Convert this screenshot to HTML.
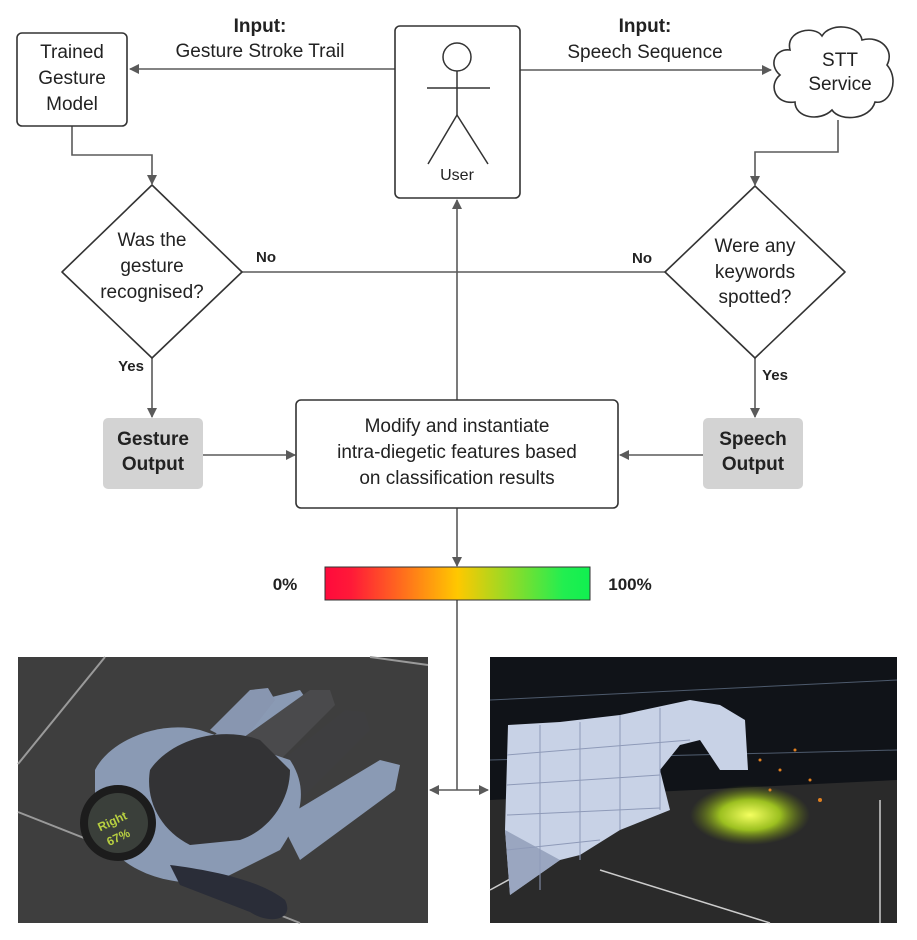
<!DOCTYPE html>
<html><head><meta charset="utf-8"><style>
html,body{margin:0;padding:0;background:#fff;}
svg{display:block;font-family:"Liberation Sans",sans-serif;}
</style></head><body>
<svg width="917" height="940" viewBox="0 0 917 940" xmlns="http://www.w3.org/2000/svg">
<defs>
<marker id="ar" markerWidth="10" markerHeight="10" refX="9" refY="5" orient="auto" markerUnits="userSpaceOnUse">
<path d="M0,0 L10,5 L0,10 Z" fill="#5a5a5a"/></marker>
<linearGradient id="bar" x1="0" x2="1">
<stop offset="0" stop-color="#ff0a3c"/><stop offset="0.1" stop-color="#ff1a38"/><stop offset="0.5" stop-color="#ffc800"/><stop offset="0.9" stop-color="#22ee50"/><stop offset="1" stop-color="#10f050"/></linearGradient>
<radialGradient id="glow" cx="0.5" cy="0.5" r="0.5"><stop offset="0" stop-color="#f4ff60"/><stop offset="0.5" stop-color="#9cc020"/><stop offset="1" stop-color="#6a8010" stop-opacity="0"/></radialGradient>
</defs>
<g stroke="#5a5a5a" stroke-width="1.6" fill="none">
<line x1="395" y1="69" x2="130" y2="69" marker-end="url(#ar)"/>
<line x1="520" y1="70" x2="771" y2="70" marker-end="url(#ar)"/>
<path d="M72,126 V155 H152 V184" marker-end="url(#ar)"/>
<path d="M838,120 V152 H755 V185" marker-end="url(#ar)"/>
<line x1="242" y1="272" x2="665" y2="272"/>
<line x1="457" y1="400" x2="457" y2="200" marker-end="url(#ar)"/>
<line x1="152" y1="358" x2="152" y2="417" marker-end="url(#ar)"/>
<line x1="755" y1="358" x2="755" y2="417" marker-end="url(#ar)"/>
<line x1="203" y1="455" x2="295" y2="455" marker-end="url(#ar)"/>
<line x1="703" y1="455" x2="620" y2="455" marker-end="url(#ar)"/>
<line x1="457" y1="508" x2="457" y2="566" marker-end="url(#ar)"/>
<path d="M457,600 V790"/>
<line x1="457" y1="790" x2="430" y2="790" marker-end="url(#ar)"/>
<line x1="457" y1="790" x2="488" y2="790" marker-end="url(#ar)"/>
</g>
<g stroke="#333" stroke-width="1.6" fill="#fff">
<rect x="17" y="33" width="110" height="93" rx="5"/>
<rect x="395" y="26" width="125" height="172" rx="5"/>
<path d="M152,185 L242,272 L152,358 L62,272 Z" stroke-linejoin="round"/>
<path d="M755,186 L845,272 L755,358 L665,272 Z" stroke-linejoin="round"/>
<rect x="296" y="400" width="322" height="108" rx="5"/>
<path d="M790,50 C785,30 815,25 822,36 C830,22 860,25 862,40 C880,35 895,50 887,65 C900,80 890,105 875,102 C870,120 840,122 832,110 C820,122 795,118 795,102 C775,105 768,85 780,75 C768,65 775,48 790,50 Z"/>
</g>
<rect x="103" y="418" width="100" height="71" rx="5" fill="#d3d3d3"/>
<rect x="703" y="418" width="100" height="71" rx="5" fill="#d3d3d3"/>
<g stroke="#333" stroke-width="1.5" fill="none">
<circle cx="457" cy="57" r="14"/>
<line x1="457" y1="71" x2="457" y2="115"/>
<line x1="427" y1="88" x2="490" y2="88"/>
<path d="M428,164 L457,115 L488,164"/>
</g>
<g fill="#222" font-size="19" text-anchor="middle">
<text x="72" y="58">Trained</text><text x="72" y="84">Gesture</text><text x="72" y="110">Model</text>
<text x="260" y="32" font-weight="bold">Input:</text><text x="260" y="57">Gesture Stroke Trail</text>
<text x="645" y="32" font-weight="bold">Input:</text><text x="645" y="58">Speech Sequence</text>
<text x="840" y="66">STT</text><text x="840" y="90">Service</text>
<text x="457" y="180" font-size="16">User</text>
<text x="152" y="246">Was the</text><text x="152" y="272">gesture</text><text x="152" y="298">recognised?</text>
<text x="755" y="252">Were any</text><text x="755" y="278">keywords</text><text x="755" y="303">spotted?</text>
<text x="457" y="432">Modify and instantiate</text><text x="457" y="458">intra-diegetic features based</text><text x="457" y="484">on classification results</text>
<text x="153" y="445" font-weight="bold">Gesture</text><text x="153" y="470" font-weight="bold">Output</text>
<text x="753" y="445" font-weight="bold">Speech</text><text x="753" y="470" font-weight="bold">Output</text>
<text x="266" y="262" font-size="15" font-weight="bold">No</text>
<text x="642" y="263" font-size="15" font-weight="bold">No</text>
<text x="131" y="371" font-size="15" font-weight="bold">Yes</text>
<text x="775" y="380" font-size="15" font-weight="bold">Yes</text>
<text x="285" y="590" font-size="17" font-weight="bold">0%</text>
<text x="630" y="590" font-size="17" font-weight="bold">100%</text>
</g>
<rect x="325" y="567" width="265" height="33" fill="url(#bar)" stroke="#333" stroke-width="1"/>
<!-- left image -->
<rect x="18" y="657" width="410" height="266" fill="#3e3e3e"/>
<g stroke="#9a9a9a" stroke-width="2"><line x1="18" y1="764" x2="105" y2="657"/><line x1="18" y1="812" x2="300" y2="923"/><line x1="370" y1="657" x2="428" y2="665"/></g>
<!-- fingers -->
<path d="M130,800 L260,700 L300,690 L310,705 L200,820 Z" fill="#8a9ab4"/>
<path d="M210,730 L250,690 L268,688 L275,700 L240,745 Z" fill="#8896b0"/>
<path d="M240,740 L310,690 L330,690 L335,705 L270,770 Z" fill="#4a4a4c"/>
<path d="M270,770 L345,710 L365,712 L370,730 L300,800 Z" fill="#3e3e40"/>
<path d="M280,820 L380,760 L400,765 L395,790 L300,860 Z" fill="#8a9ab4"/>
<path d="M95,770 C110,740 160,720 200,730 L290,760 C310,790 300,820 280,850 L220,880 C170,890 110,870 95,820 Z" fill="#8a9ab4"/>
<path d="M150,770 C170,740 220,725 260,740 L290,770 C290,800 270,830 240,840 L190,845 C160,830 145,800 150,770 Z" fill="#333335"/>
<path d="M170,865 C210,870 260,880 285,900 C295,920 270,925 250,912 L180,885 Z" fill="#2a2d38"/>
<circle cx="118" cy="823" r="38" fill="#1c1c1c"/><circle cx="118" cy="823" r="30" fill="#3a3f3a"/>
<text x="114" y="825" transform="rotate(-25 114 825)" font-size="12" fill="#b8d040" text-anchor="middle" font-weight="bold">Right</text>
<text x="120" y="841" transform="rotate(-25 120 841)" font-size="12" fill="#b8d040" text-anchor="middle" font-weight="bold">67%</text>
<!-- right image -->
<rect x="490" y="657" width="407" height="266" fill="#101318"/>
<path d="M490,800 L897,780 L897,923 L490,923 Z" fill="#2a2a2a"/>
<g stroke="#8aa0c0" stroke-width="1" opacity="0.5"><line x1="490" y1="700" x2="897" y2="680"/><line x1="490" y1="760" x2="897" y2="750"/></g>
<g stroke="#ccc" stroke-width="1.5"><line x1="490" y1="890" x2="600" y2="830"/><line x1="600" y1="870" x2="770" y2="923"/><line x1="880" y1="800" x2="880" y2="923"/></g>
<path d="M508,725 L560,722 L620,715 L690,700 L720,705 L745,720 L748,770 L720,770 L700,740 L680,745 L660,770 L670,810 L620,830 L580,855 L560,860 L510,895 L505,830 Z" fill="#c8d2e6"/>
<path d="M505,830 L560,860 L510,895 Z" fill="#9aa6c0"/>
<g stroke="#8e9ab8" stroke-width="1"><line x1="507" y1="755" x2="690" y2="740"/><line x1="507" y1="785" x2="660" y2="775"/><line x1="507" y1="815" x2="660" y2="808"/><line x1="507" y1="850" x2="600" y2="840"/><line x1="540" y1="725" x2="540" y2="890"/><line x1="580" y1="722" x2="580" y2="860"/><line x1="620" y1="715" x2="620" y2="830"/><line x1="660" y1="708" x2="660" y2="810"/></g>
<ellipse cx="750" cy="815" rx="60" ry="30" fill="url(#glow)"/>
<g fill="#e08020"><circle cx="760" cy="760" r="1.5"/><circle cx="780" cy="770" r="1.5"/><circle cx="795" cy="750" r="1.5"/><circle cx="770" cy="790" r="1.5"/><circle cx="810" cy="780" r="1.5"/><circle cx="820" cy="800" r="2"/></g>
</svg>
</body></html>
